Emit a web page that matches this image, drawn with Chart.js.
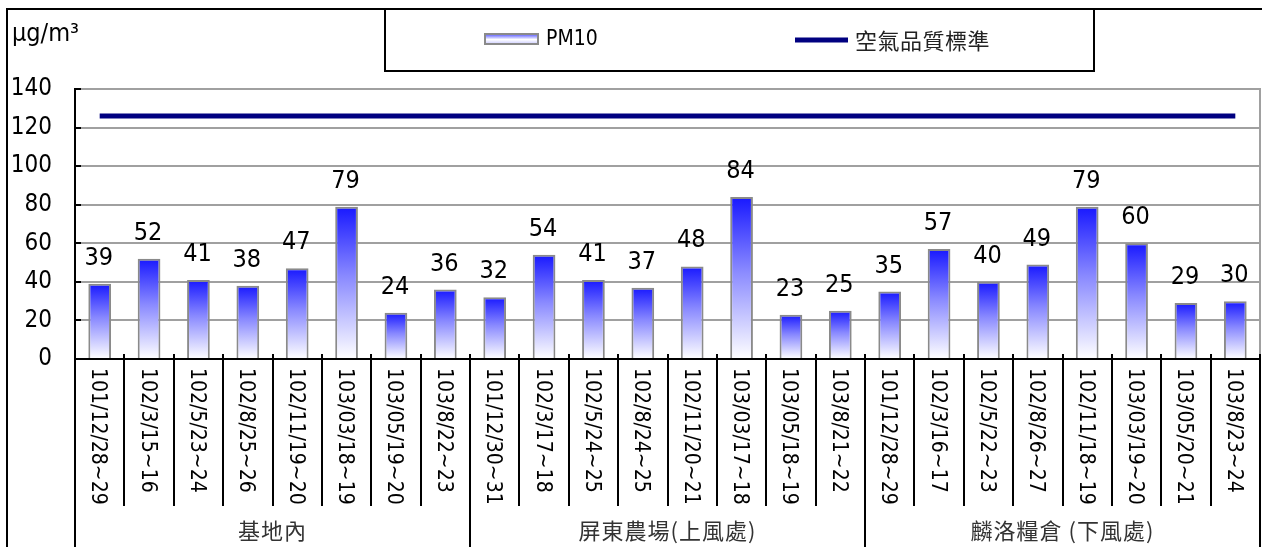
<!DOCTYPE html>
<html>
<head>
<meta charset="utf-8">
<script src="https://cdn.jsdelivr.net/npm/chart.js@4.4.1/dist/chart.umd.min.js"></script>
<style>
  html, body { margin: 0; padding: 0; background: #fff; }
  canvas { display: block; }
</style>
</head>
<body>
<canvas id="chart" width="1262" height="547"></canvas>
<script>
const labels = [
  '101/12/28~29', '102/3/15~16', '102/5/23~24', '102/8/25~26', '102/11/19~20', '103/03/18~19', '103/05/19~20', '103/8/22~23',
  '101/12/30~31', '102/3/17~18', '102/5/24~25', '102/8/24~25', '102/11/20~21', '103/03/17~18', '103/05/18~19', '103/8/21~22',
  '101/12/28~29', '102/3/16~17', '102/5/22~23', '102/8/26~27', '102/11/18~19', '103/03/19~20', '103/05/20~21', '103/8/23~24'
];
const pm10 = [39, 52, 41, 38, 47, 79, 24, 36, 32, 54, 41, 37, 48, 84, 23, 25, 35, 57, 40, 49, 79, 60, 29, 30];
const airStandard = [126, 126, 126, 126, 126, 126, 126, 126, 126, 126, 126, 126, 126, 126, 126, 126, 126, 126, 126, 126, 126, 126, 126, 126];
const groupNames = ['基地內', '屏東農場(上風處)', '麟洛糧倉 (下風處)'];
const groupSizes = [8, 8, 8];
const yTickValues = [0, 20, 40, 60, 80, 100, 120, 140];
const unitText = 'μg/m³';
const legendNames = ['PM10', '空氣品質標準'];

const NUM_FONT = '"DejaVu Sans Condensed", "DejaVu Sans", sans-serif';
const CJK_FONT = '"Noto Sans CJK TC", "Noto Sans CJK SC", sans-serif';

function barFill(c) {
  const ys = c.chart.scales.y;
  if (!ys || c.raw == null) return '#6060ff';
  const top = ys.getPixelForValue(c.raw), bot = ys.getPixelForValue(0);
  if (!isFinite(top) || !isFinite(bot) || top === bot) return '#6060ff';
  const g = c.chart.ctx.createLinearGradient(0, top, 0, bot);
  g.addColorStop(0, '#1818ff');
  g.addColorStop(0.45, '#8888ff');
  g.addColorStop(1, '#ffffff');
  return g;
}

function line(ctx, x1, y1, x2, y2, color, w) {
  ctx.strokeStyle = color; ctx.lineWidth = w;
  ctx.beginPath(); ctx.moveTo(x1, y1); ctx.lineTo(x2, y2); ctx.stroke();
}

const extras = {
  id: 'extras',
  beforeDraw(chart) {
    const ctx = chart.ctx;
    ctx.save(); ctx.fillStyle = '#fff'; ctx.fillRect(0, 0, chart.width, chart.height); ctx.restore();
  },
  afterDatasetsDraw(chart) {
    // value labels above bars
    const ctx = chart.ctx, meta = chart.getDatasetMeta(0);
    ctx.save();
    ctx.font = '25px ' + NUM_FONT; ctx.fillStyle = '#000';
    ctx.textAlign = 'center'; ctx.textBaseline = 'alphabetic';
    meta.data.forEach((bar, i) => ctx.fillText(String(pm10[i]), bar.x - 1, bar.y - 19));
    ctx.restore();
  },
  afterDraw(chart) {
    const {ctx, chartArea: a, scales: {x, y}} = chart;
    const n = labels.length;
    const step = x.getPixelForValue(1) - x.getPixelForValue(0);
    const H = chart.height;
    ctx.save();
    ctx.lineCap = 'butt';

    // plot area right border
    line(ctx, a.right, a.top - 1, a.right, a.bottom, '#a0a0a0', 2);
    // y tick marks (inside)
    yTickValues.forEach(v => { const py = Math.round(y.getPixelForValue(v)); line(ctx, a.left, py, a.left + 6, py, '#000', 2); });

    // category separators + group separators
    let edges = [0];
    groupSizes.reduce((s, g) => { edges.push(s + g); return s + g; }, 0);
    for (let i = 0; i <= n; i++) {
      const px = Math.round(x.getPixelForValue(i) - step / 2);
      const full = edges.includes(i);
      line(ctx, px, a.bottom - 5, px, full ? H : 506, '#000', 2);
    }

    // rotated date labels
    ctx.font = '21px ' + NUM_FONT; ctx.fillStyle = '#000';
    ctx.textAlign = 'left'; ctx.textBaseline = 'middle';
    labels.forEach((lb, i) => {
      ctx.save();
      ctx.translate(x.getPixelForValue(i) - 2, 368);
      ctx.rotate(Math.PI / 2);
      ctx.fillText(lb, 0, 0);
      ctx.restore();
    });

    // group labels
    ctx.font = '22px ' + CJK_FONT; ctx.fillStyle = '#333';
    ctx.letterSpacing = '1px';
    ctx.textAlign = 'center'; ctx.textBaseline = 'middle';
    groupNames.forEach((g, k) => {
      const x0 = x.getPixelForValue(edges[k]) - step / 2, x1 = x.getPixelForValue(edges[k + 1]) - step / 2;
      ctx.fillText(g, (x0 + x1) / 2, 531);
    });
    ctx.letterSpacing = '0px';

    // outer frame
    line(ctx, 6, 9, chart.width, 9, '#000', 2);
    line(ctx, 7, 8, 7, H, '#000', 2);

    // unit
    ctx.font = '25px ' + NUM_FONT; ctx.fillStyle = '#000';
    ctx.textAlign = 'left'; ctx.textBaseline = 'middle';
    ctx.fillText(unitText, 12, 34);

    // legend box
    ctx.strokeStyle = '#000'; ctx.lineWidth = 2;
    ctx.strokeRect(385, 9, 709, 62);
    const g = ctx.createLinearGradient(0, 34, 0, 45);
    g.addColorStop(0, '#5050ff'); g.addColorStop(0.5, '#ffffff'); g.addColorStop(1, '#c0c0ff');
    ctx.fillStyle = g; ctx.fillRect(485, 34, 53, 10);
    ctx.strokeStyle = '#8a8a8a'; ctx.lineWidth = 2; ctx.strokeRect(485, 34, 53, 10);
    ctx.fillStyle = '#000'; ctx.font = '21px ' + NUM_FONT;
    ctx.fillText(legendNames[0], 546, 40);
    line(ctx, 795, 40, 848, 40, '#000080', 5);
    ctx.font = '22px ' + CJK_FONT; ctx.fillStyle = '#222';
    ctx.letterSpacing = '0.5px';
    ctx.fillText(legendNames[1], 855, 41);
    ctx.restore();
  }
};

new Chart(document.getElementById('chart'), {
  data: {
    labels: labels,
    datasets: [
      {
        type: 'bar', label: legendNames[0], data: pm10, order: 2,
        backgroundColor: barFill, borderColor: '#8a8a8a', borderWidth: 2,
        barPercentage: 0.46, categoryPercentage: 1
      },
      {
        type: 'line', label: legendNames[1], data: airStandard, order: 1,
        borderColor: '#000080', borderWidth: 5, pointRadius: 0, borderCapStyle: 'butt', fill: false
      }
    ]
  },
  options: {
    responsive: false,
    animation: false,
    layout: {padding: {top: 89, right: 2, left: 0, bottom: 0}},
    plugins: {legend: {display: false}, tooltip: {enabled: false}},
    scales: {
      x: {
        offset: true,
        grid: {display: false, drawTicks: false},
        border: {display: true, color: '#000', width: 2},
        ticks: {display: false},
        afterFit: s => { s.height = 188; }
      },
      y: {
        min: 0, max: 140,
        afterBuildTicks: s => { s.ticks = yTickValues.map(v => ({value: v})); },
        grid: {color: '#a0a0a0', lineWidth: 2, drawTicks: false},
        border: {display: true, color: '#000', width: 2},
        ticks: {padding: 23, color: '#000', font: {family: NUM_FONT, size: 24}},
        afterFit: s => { s.width = 75; }
      }
    }
  },
  plugins: [extras]
});
</script>
</body>
</html>
